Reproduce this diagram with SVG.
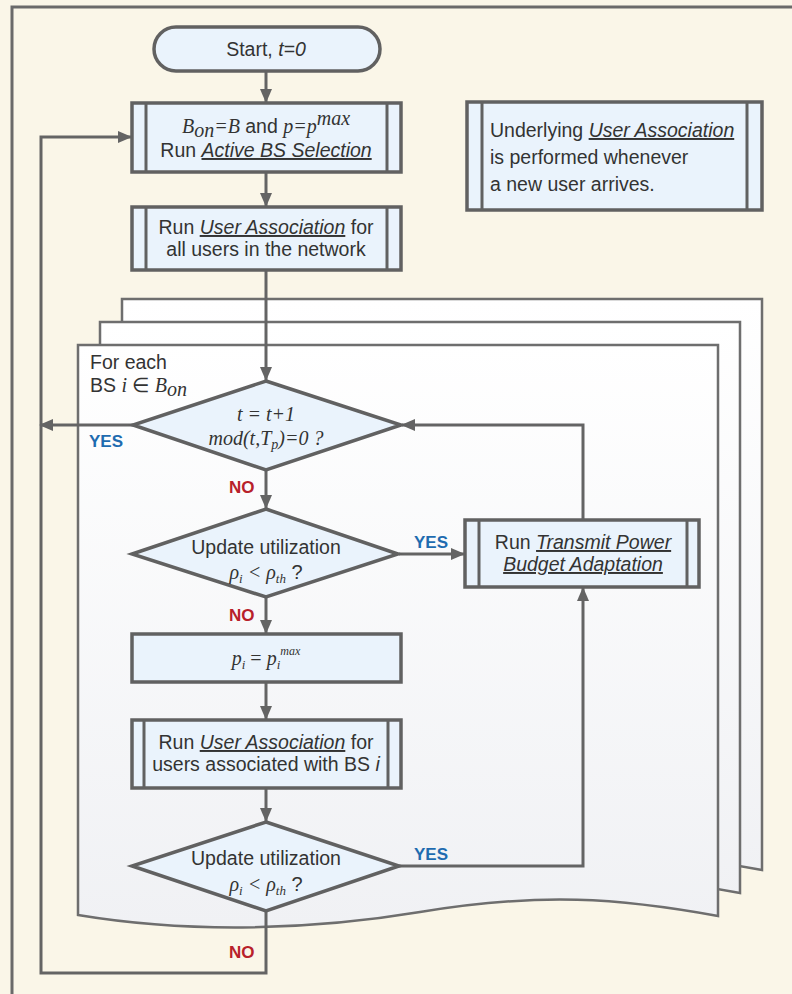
<svg xmlns="http://www.w3.org/2000/svg" width="792" height="994" viewBox="0 0 792 994">
<style>
.bg{fill:#FAF6E8}
.frame{fill:none;stroke:#6a6a6a;stroke-width:3}
.box{fill:#EAF3FC;stroke:#616161;stroke-width:3.5}
.bar{fill:none;stroke:#616161;stroke-width:3}
.page{fill:url(#pg);stroke:#6e6e6e;stroke-width:2.5}
.conn{fill:none;stroke:#646464;stroke-width:3}
.t{font-family:"Liberation Sans",Arial,sans-serif;font-size:19.5px;fill:#333}
.m{font-family:"Liberation Serif","Times New Roman",serif;font-style:italic;font-size:20px;fill:#333}
.yes{font-family:"Liberation Sans",Arial,sans-serif;font-weight:bold;font-size:17px;fill:#1E6BB0}
.no{font-family:"Liberation Sans",Arial,sans-serif;font-weight:bold;font-size:17px;fill:#B8212A}
.i{font-style:italic}
.u{text-decoration:underline}
</style>
<defs>
<linearGradient id="pg" x1="0" y1="0" x2="0" y2="1">
<stop offset="0" stop-color="#FFFFFF"/>
<stop offset="1" stop-color="#F0F1F4"/>
</linearGradient>
<marker id="ah" markerUnits="userSpaceOnUse" markerWidth="14" markerHeight="12" refX="13" refY="6" orient="auto">
<path d="M0,0 L14,6 L0,12 z" fill="#646464"/>
</marker>
</defs>
<rect class="bg" x="0" y="0" width="792" height="994"/>
<path class="frame" d="M12,994 V7 H792"/>

<g id="pages">
<path class="page" d="M122,299 H762 V870 C664,852 584,846 464,866 C344,886 224,886 122,869 Z"/>
<path class="page" d="M100,322 H740 V893 C642,875 562,869 442,889 C322,909 202,909 100,892 Z"/>
<path class="page" d="M78,345 H718 V916 C620,898 540,892 420,912 C300,932 180,932 78,915 Z"/>
<text class="t" x="90" y="369">For each</text>
<text class="t" x="90" y="392">BS <tspan class="m">i</tspan> ∈ <tspan class="m">B</tspan><tspan class="m" font-size="13px" dy="4">on</tspan></text>
</g>

<g id="connectors">
<line class="conn" x1="266" y1="71" x2="266" y2="102" marker-end="url(#ah)"/>
<line class="conn" x1="266" y1="172" x2="266" y2="206" marker-end="url(#ah)"/>
<line class="conn" x1="266" y1="270" x2="266" y2="380" marker-end="url(#ah)"/>
<line class="conn" x1="133" y1="425" x2="40" y2="425" marker-end="url(#ah)"/>
<line class="conn" x1="266" y1="470" x2="266" y2="508" marker-end="url(#ah)"/>
<line class="conn" x1="399" y1="554" x2="464" y2="554" marker-end="url(#ah)"/>
<line class="conn" x1="266" y1="597" x2="266" y2="633" marker-end="url(#ah)"/>
<line class="conn" x1="266" y1="682" x2="266" y2="719" marker-end="url(#ah)"/>
<line class="conn" x1="266" y1="788" x2="266" y2="821" marker-end="url(#ah)"/>
<path class="conn" d="M583,519 V425 H402" marker-end="url(#ah)"/>
<path class="conn" d="M399,866 H583 V588" marker-end="url(#ah)"/>
<path class="conn" d="M266,911 V973 H41 V137 H131" marker-end="url(#ah)"/>
<text class="yes" x="89" y="447">YES</text>
<text class="no" x="229" y="493">NO</text>
<text class="yes" x="414" y="548">YES</text>
<text class="no" x="229" y="621">NO</text>
<text class="yes" x="414" y="860">YES</text>
<text class="no" x="229" y="958">NO</text>
</g>

<g id="start">
<rect class="box" x="154" y="27" width="226" height="44" rx="22"/>
<text class="t" x="266" y="56" text-anchor="middle">Start, <tspan class="i">t=0</tspan></text>
</g>

<g id="active-bs">
<rect class="box" x="132" y="103" width="269" height="69"/>
<line class="bar" x1="146" y1="103" x2="146" y2="172"/>
<line class="bar" x1="387" y1="103" x2="387" y2="172"/>
<text class="t" x="266" y="133" text-anchor="middle"><tspan class="m">B</tspan><tspan class="m" font-size="13px" dy="4">on</tspan><tspan class="m" dy="-4">=B</tspan> and <tspan class="m">p=p</tspan><tspan class="m" font-size="12px" dy="-8">max</tspan></text>
<text class="t" x="266" y="157" text-anchor="middle">Run <tspan class="i u">Active BS Selection</tspan></text>
</g>

<g id="ua-all">
<rect class="box" x="132" y="207" width="269" height="63"/>
<line class="bar" x1="146" y1="207" x2="146" y2="270"/>
<line class="bar" x1="387" y1="207" x2="387" y2="270"/>
<text class="t" x="266" y="234" text-anchor="middle">Run <tspan class="i u">User Association</tspan> for</text>
<text class="t" x="266" y="256" text-anchor="middle">all users in the network</text>
</g>

<g id="note">
<rect class="box" x="467" y="102" width="295" height="108"/>
<line class="bar" x1="482" y1="102" x2="482" y2="210"/>
<line class="bar" x1="747" y1="102" x2="747" y2="210"/>
<text class="t" x="490" y="137">Underlying <tspan class="i u">User Association</tspan></text>
<text class="t" x="490" y="164">is performed whenever</text>
<text class="t" x="490" y="191">a new user arrives.</text>
</g>

<g id="decision-t">
<path class="box" d="M266,381 L401,425 L266,470 L133,425 Z"/>
<text class="m" x="266" y="421" text-anchor="middle">t = t+1</text>
<text class="m" x="266" y="445" text-anchor="middle">mod(t,T<tspan font-size="14px" dy="4">p</tspan><tspan dy="-4">)=0 ?</tspan></text>
</g>

<g id="decision-u1">
<path class="box" d="M266,509 L398,554 L266,597 L132,554 Z"/>
<text class="t" x="266" y="554" text-anchor="middle">Update utilization</text>
<text class="m" x="266" y="579" text-anchor="middle">ρ<tspan font-size="13px" dy="4">i</tspan><tspan dy="-4"> &lt; ρ</tspan><tspan font-size="13px" dy="4">th</tspan><tspan dy="-4" font-style="normal" font-family="Liberation Sans, sans-serif"> ?</tspan></text>
</g>

<g id="transmit">
<rect class="box" x="465" y="520" width="234" height="67"/>
<line class="bar" x1="479" y1="520" x2="479" y2="587"/>
<line class="bar" x1="687" y1="520" x2="687" y2="587"/>
<text class="t" x="583" y="549" text-anchor="middle">Run <tspan class="i u">Transmit Power</tspan></text>
<text class="t i u" x="583" y="571" text-anchor="middle">Budget Adaptation</text>
</g>

<g id="pmax">
<rect class="box" x="132" y="634" width="269" height="48"/>
<text class="m" x="266" y="665" text-anchor="middle">p<tspan font-size="13px" dy="4">i</tspan><tspan dy="-4" font-style="normal"> = </tspan>p<tspan font-size="13px" dy="4">i</tspan><tspan font-size="12px" dy="-14">max</tspan></text>
</g>

<g id="ua-bs">
<rect class="box" x="132" y="720" width="269" height="68"/>
<line class="bar" x1="144" y1="720" x2="144" y2="788"/>
<line class="bar" x1="388" y1="720" x2="388" y2="788"/>
<text class="t" x="266" y="749" text-anchor="middle">Run <tspan class="i u">User Association</tspan> for</text>
<text class="t" x="266" y="771" text-anchor="middle">users associated with BS <tspan class="i">i</tspan></text>
</g>

<g id="decision-u2">
<path class="box" d="M266,822 L399,866 L266,911 L132,866 Z"/>
<text class="t" x="266" y="865" text-anchor="middle" textLength="150" lengthAdjust="spacingAndGlyphs">Update utilization</text>
<text class="m" x="266" y="891" text-anchor="middle">ρ<tspan font-size="13px" dy="4">i</tspan><tspan dy="-4"> &lt; ρ</tspan><tspan font-size="13px" dy="4">th</tspan><tspan dy="-4" font-style="normal" font-family="Liberation Sans, sans-serif"> ?</tspan></text>
</g>
</svg>
